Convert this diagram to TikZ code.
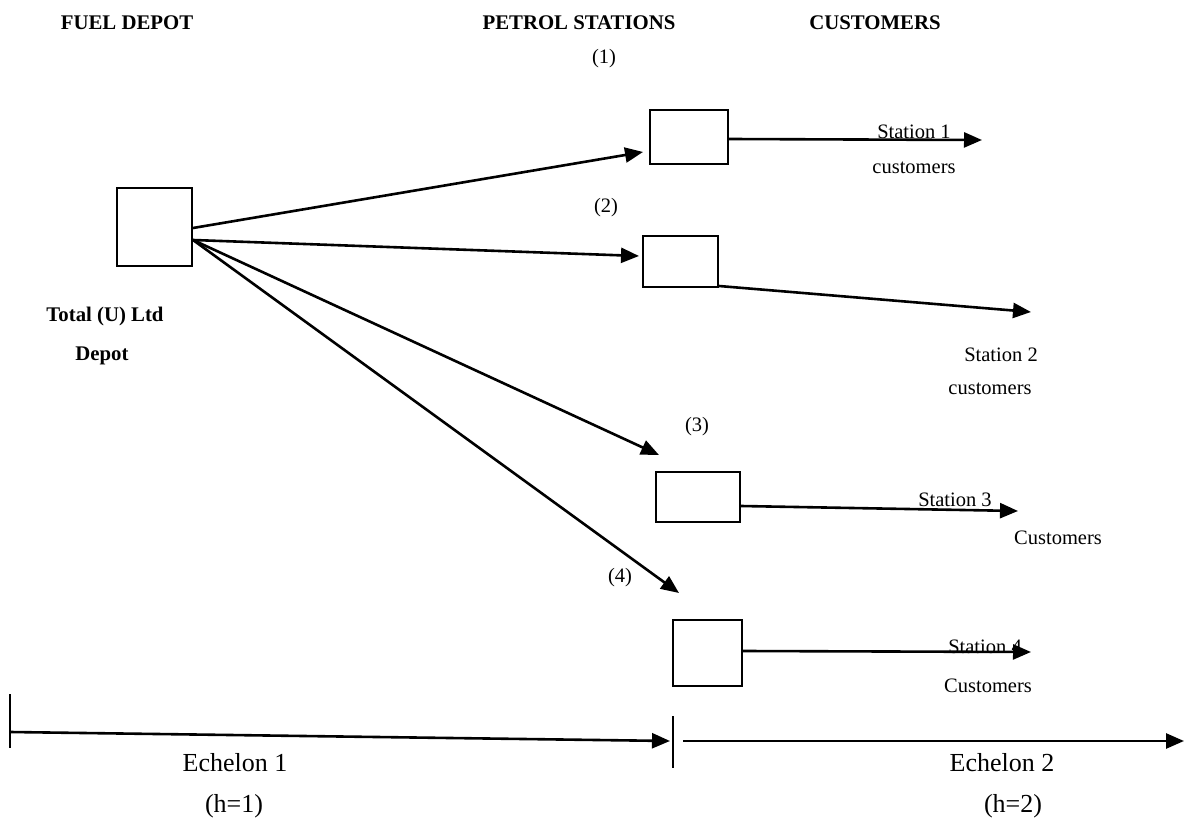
\documentclass[tikz,border=0pt]{standalone}
\usepackage{fontspec}
\setmainfont{Liberation Serif}
\usetikzlibrary{arrows.meta}
\begin{document}
\begin{tikzpicture}[x=1pt,y=-1pt,
  box/.style={draw,line width=2pt,inner sep=0pt},
  flow/.style={line width=2.6pt,-{Triangle[length=18pt,width=15pt]}},
  tick/.style={line width=1.8pt},
  lbl/.style={font=\fontsize{20.5}{24}\selectfont,inner sep=0pt},
  hdr/.style={font=\fontsize{20.8}{24}\selectfont\bfseries,inner sep=0pt},
  ech/.style={font=\fontsize{26}{30}\selectfont,inner sep=0pt}]
\useasboundingbox (0,0) rectangle (1184,821);
% boxes
\node[box,minimum width=75pt,minimum height=78pt] (depot) at (154.5,227) {};
\node[box,minimum width=78pt,minimum height=54pt] (b1) at (689,137) {};
\node[box,minimum width=75pt,minimum height=51pt] (b2) at (680.5,261.5) {};
\node[box,minimum width=84pt,minimum height=50pt] (b3) at (698,497) {};
\node[box,minimum width=69pt,minimum height=66pt] (b4) at (707.5,653) {};
% free ends
\coordinate (t1) at (643,152);
\coordinate (t2) at (639,256);
\coordinate (t3) at (659,455);
\coordinate (t4) at (679,593);
\coordinate (e1) at (982,140);
\coordinate (e2) at (1031,312);
\coordinate (e3) at (1018,511);
\coordinate (e4) at (1031,652);
% depot to stations
\draw[flow] ([yshift=-1pt]depot.east) -- (t1);
\draw[flow] ([yshift=-13pt]depot.east) -- (t2);
\draw[flow] ([yshift=-13pt]depot.east) -- (t3);
\draw[flow] ([yshift=-13pt]depot.east) -- (t4);
% stations to customers
\draw[flow] ([yshift=-2pt]b1.east) -- (e1);
\draw[flow] (b2.south east) ++(0,-2) -- (e2);
\draw[flow] ([yshift=-9pt]b3.east) -- (e3);
\draw[flow] ([yshift=2pt]b4.east) -- (e4);
% echelon axis
\coordinate (k1a) at (10,694);
\coordinate (k1b) at (10,748);
\coordinate (k2a) at (673,716);
\coordinate (k2b) at (673,768);
\coordinate (s1) at (10,732);
\coordinate (f1) at (670,741);
\coordinate (s2) at (683,741);
\coordinate (f2) at (1184,741);
\draw[tick] (k1a) -- (k1b);
\draw[tick] (k2a) -- (k2b);
\draw[flow] (s1) -- (f1);
\draw[flow] (s2) -- (f2);
% headers
\node[hdr] (hfd) at (127,23) {FUEL DEPOT};
\node[hdr] (hps) at (579,23) {PETROL STATIONS};
\node[hdr] (hcu) at (875,23) {CUSTOMERS};
% labels
\node[hdr] (tot) at (105,316) {Total (U) Ltd};
\node[hdr] (dep) at (102,356) {Depot};
\node[lbl] (n1) at (604,59) {(1)};
\node[lbl] (n2) at (606,208) {(2)};
\node[lbl] (n3) at (697,427) {(3)};
\node[lbl] (n4) at (620,578) {(4)};
\node[lbl] (s1a) at (914,132) {Station 1};
\node[lbl] (s1b) at (914,168) {customers};
\node[lbl] (s2a) at (1001,355) {Station 2};
\node[lbl] (s2b) at (990,389) {customers};
\node[lbl] (s3a) at (955,500) {Station 3};
\node[lbl] (s3b) at (1058,538) {Customers};
\node[lbl] (s4a) at (985,647) {Station 4};
\node[lbl] (s4b) at (988,686) {Customers};
\node[ech] (ec1) at (235,763) {Echelon 1};
\node[ech] (h1) at (234,806) {(h=1)};
\node[ech] (ec2) at (1002,763) {Echelon 2};
\node[ech] (h2) at (1013,806) {(h=2)};
\end{tikzpicture}
\end{document}
